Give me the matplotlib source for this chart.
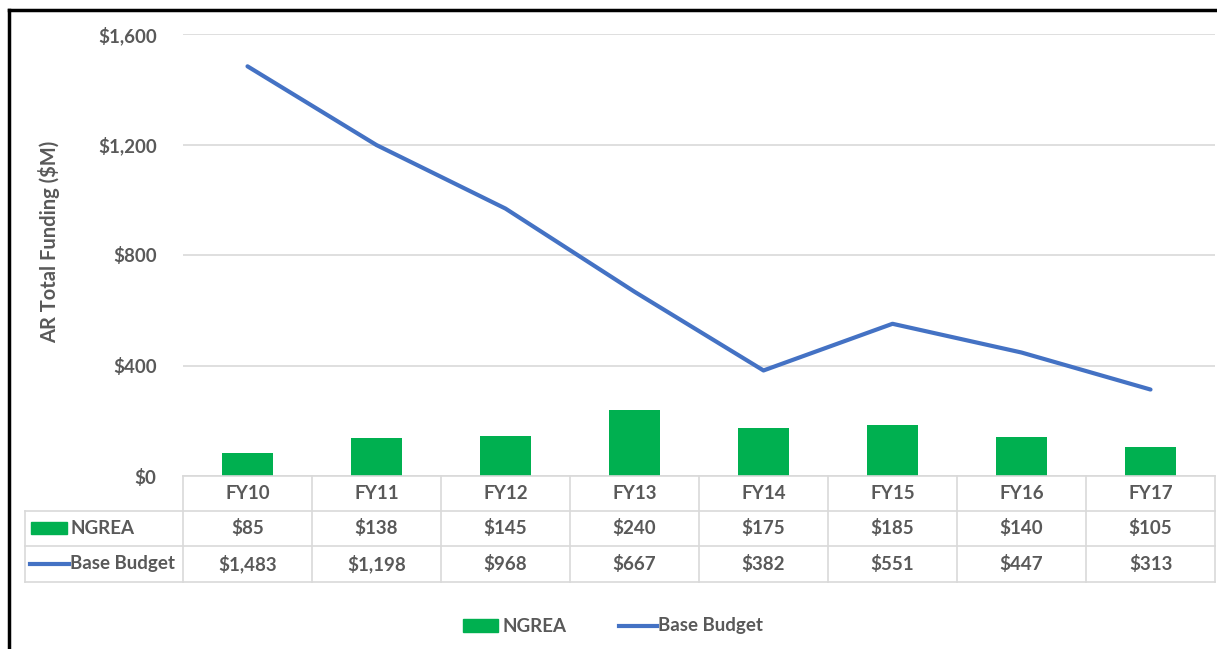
import numpy as np
import matplotlib.pyplot as plt
from matplotlib.lines import Line2D
from matplotlib.patches import Rectangle

years = ['FY10', 'FY11', 'FY12', 'FY13', 'FY14', 'FY15', 'FY16', 'FY17']
ngrea = [85, 138, 145, 240, 175, 185, 140, 105]
base_budget = [1483, 1198, 968, 667, 382, 551, 447, 313]
yticks = [0, 400, 800, 1200, 1600]

green = '#00B050'
blue = '#4472C4'
txt = '#595959'
grid = '#D9D9D9'

plt.rcParams['font.family'] = ['Lato', 'DejaVu Sans']
plt.rcParams['font.weight'] = 'bold'

W, H = 1217, 649
fig = plt.figure(figsize=(W / 100, H / 100), dpi=100)

def fx(px):
    return px / W

def fy(py):
    return 1 - py / H

# frame (left + top)
fig.add_artist(Line2D([fx(9), fx(9)], [fy(10), 0], color='black', lw=2.5))
fig.add_artist(Line2D([fx(9), 1], [fy(10), fy(10)], color='black', lw=2.5))

left, right, top, bottom = 183, 1215, 34, 476
ax = fig.add_axes([fx(left), fy(bottom), fx(right - left), fy(top) - fy(bottom)])

x = np.arange(len(years))
ax.bar(x, ngrea, width=0.4, color=green, zorder=2)
ax.plot(x, base_budget, color=blue, lw=3, zorder=3, solid_capstyle='round')

ax.set_xlim(-0.5, len(years) - 0.5)
ax.set_ylim(0, 1600)
ax.set_yticks(yticks)
ax.set_yticklabels(['${:,}'.format(v) for v in yticks], color=txt, fontsize=13.5,
                   fontweight='bold')
ax.tick_params(axis='y', length=0, pad=19)
ax.set_xticks([])
for s in ax.spines.values():
    s.set_visible(False)
ax.yaxis.grid(True, color=grid, lw=1.2, zorder=0)
ax.set_ylabel('AR Total Funding ($M)', color=txt, fontsize=14.5, fontweight='bold')
ax.yaxis.set_label_coords(-0.119, 0.53)

# data table below the axes
row_h = 35
rows_top = [476, 511, 546]
tbl_bottom = 582
lc = dict(color=grid, lw=1.2)
fig.add_artist(Line2D([fx(left), fx(right)], [fy(476), fy(476)], **lc))
for yy in [511, 546, tbl_bottom]:
    fig.add_artist(Line2D([fx(25), fx(right)], [fy(yy), fy(yy)], **lc))
col_w = (right - left) / len(years)
for i in range(len(years) + 1):
    xx = left + i * col_w
    fig.add_artist(Line2D([fx(xx), fx(xx)], [fy(476), fy(tbl_bottom)], **lc))
fig.add_artist(Line2D([fx(25), fx(25)], [fy(511), fy(tbl_bottom)], **lc))

rows = [years,
        ['${:,}'.format(v) for v in ngrea],
        ['${:,}'.format(v) for v in base_budget]]
for r, vals in enumerate(rows):
    yc = rows_top[r] + row_h / 2
    for i, v in enumerate(vals):
        fig.text(fx(left + (i + 0.5) * col_w), fy(yc), v, ha='center', va='center',
                 color=txt, fontsize=13.5)

# row labels with legend keys
fig.add_artist(Rectangle((fx(31), fy(534)), fx(36), fy(522) - fy(534), color=green))
fig.text(fx(70), fy(528.5), 'NGREA', ha='left', va='center', color=txt, fontsize=13.5)
fig.add_artist(Line2D([fx(30), fx(69)], [fy(564), fy(564)], color=blue, lw=3))
fig.text(fx(70), fy(563.5), 'Base Budget', ha='left', va='center', color=txt, fontsize=13.5)

# bottom legend
fig.add_artist(Rectangle((fx(463), fy(632)), fx(35), fy(619) - fy(632), color=green))
fig.text(fx(503), fy(626), 'NGREA', ha='left', va='center', color=txt, fontsize=13.5)
fig.add_artist(Line2D([fx(619), fx(657)], [fy(626), fy(626)], color=blue, lw=3))
fig.text(fx(658), fy(626), 'Base Budget', ha='left', va='center', color=txt, fontsize=13.5)

fig.savefig('out.png', dpi=100)
